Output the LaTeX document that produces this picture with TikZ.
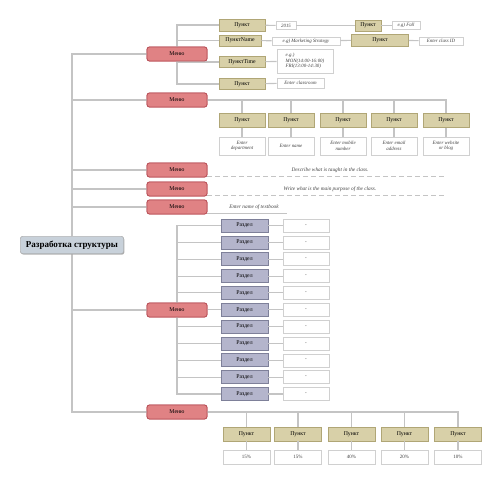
\documentclass[tikz,border=0pt]{standalone}
\usepackage{fontspec}
\setmainfont{Liberation Serif}
\usetikzlibrary{shadows}
\definecolor{menufill}{HTML}{E08284}
\definecolor{menudraw}{HTML}{B85058}
\definecolor{pfill}{HTML}{D8D0A8}
\definecolor{pdraw}{HTML}{B0A676}
\definecolor{rfill}{HTML}{B4B5CC}
\definecolor{rdraw}{HTML}{7E8099}
\definecolor{rootfill}{HTML}{C8D1DA}
\definecolor{linec}{HTML}{C4C4C4}
\definecolor{boxc}{HTML}{D0D0D0}
\definecolor{txtc}{HTML}{404040}
\tikzset{
  conn/.style={draw=linec,line width=1.1pt},
  dashline/.style={draw=linec,line width=0.9pt,dash pattern=on 5pt off 3pt},
  menubox/.style={draw=menudraw,fill=menufill,line width=0.8pt,rounded corners=2.5pt,minimum width=60pt,minimum height=14pt,inner sep=0pt,font=\fontsize{5.8}{6}\selectfont},
  rootbox/.style={draw=gray!70,fill=rootfill,rounded corners=2pt,minimum width=103pt,minimum height=17pt,inner sep=0pt,font=\fontsize{9}{9}\selectfont\bfseries,drop shadow={shadow xshift=0.8pt,shadow yshift=-1pt,opacity=0.35}},
  pbox/.style={draw=pdraw,fill=pfill,line width=0.7pt,minimum width=46pt,minimum height=12pt,inner sep=0pt,font=\fontsize{5.8}{6}\selectfont},
  rbox/.style={draw=rdraw,fill=rfill,line width=0.7pt,minimum width=47pt,minimum height=13pt,inner sep=0pt,font=\fontsize{5.8}{6}\selectfont},
  tbox/.style={draw=boxc,fill=white,line width=0.6pt,minimum width=46pt,minimum height=10pt,inner sep=1pt,align=center,text=txtc,font=\fontsize{4.9}{5.6}\selectfont\itshape},
  vbox/.style={draw=boxc,fill=white,line width=0.6pt,minimum width=47pt,minimum height=14pt,inner sep=0pt,text=txtc,font=\fontsize{5}{5.4}\selectfont},
  note/.style={inner sep=0pt,text=txtc,font=\fontsize{5.3}{6}\selectfont\itshape},
}
\begin{document}
\begin{tikzpicture}[x=1pt,y=-1pt]
\useasboundingbox (0,0) rectangle (500,482);
% nodes
\node[rootbox] (root) at (72,245) {Разработка структуры};
\node[menubox] (m1) at (177,54) {Меню};
\node[menubox] (m2) at (177,100) {Меню};
\node[menubox] (m3) at (177,170) {Меню};
\node[menubox] (m4) at (177,189) {Меню};
\node[menubox] (m5) at (177,207) {Меню};
\node[menubox] (m6) at (177,310) {Меню};
\node[menubox] (m7) at (177,412) {Меню};
% trunk
\foreach \m in {m1,m2,m3,m4,m5,m6,m7}{\draw[conn] (root) |- (\m);}
% menu 1
\node[pbox] (p11) at (242,25) {Пункт};
\node[tbox,minimum width=20pt,minimum height=8pt] (t11) at (286,25.5) {2015};
\node[pbox,minimum width=26pt,minimum height=11pt] (p12) at (368,25.5) {Пункт};
\node[tbox,minimum width=28pt,minimum height=8pt] (t12) at (406,25.5) {e.g) Fall};
\node[pbox,minimum width=42pt,minimum height=11pt] (p13) at (240,40.5) {ПунктName};
\node[tbox,minimum width=68pt,minimum height=8pt] (t13) at (306,41) {e.g) Marketing Strategy};
\node[pbox,minimum width=57pt] (p14) at (380,40) {Пункт};
\node[tbox,minimum width=44pt,minimum height=8pt] (t14) at (441,41) {Enter class ID};
\node[pbox,minimum height=11pt] (p15) at (242,62) {ПунктTime};
\node[tbox,minimum width=56pt,minimum height=24pt,align=left] (t15) at (305,61) {e.g.)\\MON(14:00-16:00)\\FRI(13:00-14:30)};
\node[pbox,minimum height=11pt] (p16) at (242,84) {Пункт};
\node[tbox,minimum width=47pt] (t16) at (300.5,83) {Enter classroom};
\foreach \p in {p11,p13,p15,p16}{\draw[conn] (m1) |- (\p);}
\draw[conn] (p11) -- (t11);
\draw[conn] (t11) -- (p12);
\draw[conn] (p12) -- (t12);
\draw[conn] (p13) -- (t13);
\draw[conn] (t13) -- (p14);
\draw[conn] (p14) -- (t14);
\draw[conn] (p15) -- (t15);
\draw[conn] (p16) -- (t16);
% menu 2
\foreach \i/\x/\t in {1/242/{Enter\\department},2/291/{Enter name},3/343/{Enter mobile\\number},4/394/{Enter email\\address},5/446/{Enter website\\or blog}}{
  \node[pbox,minimum height=14pt] (q2\i) at (\x,120.5) {Пункт};
  \node[tbox,minimum height=18pt] (s2\i) at (\x,146) {\t};
  \draw[conn] (m2) -| (q2\i);
  \draw[conn] (q2\i) -- (s2\i);
}
% menu 3-5
\node[note] (n3) at (330,170) {Describe what is taught in the class.};
\coordinate (e3) at (446,176);
\draw[dashline] (m3.east |- e3) -- (e3);
\node[note] (n4) at (330,189) {Write what is the main purpose of the class.};
\coordinate (e4) at (446,195);
\draw[dashline] (m4.east |- e4) -- (e4);
\node[note] (n5) at (254,207.5) {Enter name of textbook};
\coordinate (e5) at (287,213);
\draw[draw=linec,line width=0.9pt] (m5.east |- e5) -- (e5);
% menu 6
\foreach \i in {0,...,10}{
  \node[rbox] (r\i) at (244.5,225.5+16.85*\i) {Раздел};
  \node[vbox,minimum width=46pt,minimum height=13pt] (d\i) at (306,225.5+16.85*\i) {-};
  \draw[conn] (m6) |- (r\i);
  \draw[conn] (r\i) -- (d\i);
}
% menu 7
\foreach \i/\x/\v in {1/246.5/15\%,2/298/15\%,3/351.5/40\%,4/404.5/20\%,5/458/10\%}{
  \node[pbox,minimum width=47pt,minimum height=14pt] (q7\i) at (\x,434) {Пункт};
  \node[vbox] (v7\i) at (\x,457) {\v};
  \draw[conn] (m7) -| (q7\i);
  \draw[conn] (q7\i) -- (v7\i);
}
% redraw menus on top
\foreach \m/\y in {m1/54,m2/100,m3/170,m4/189,m5/207,m6/310,m7/412}{\node[menubox] at (177,\y) {Меню};}
\node[rootbox] at (72,245) {Разработка структуры};
\end{tikzpicture}
\end{document}
